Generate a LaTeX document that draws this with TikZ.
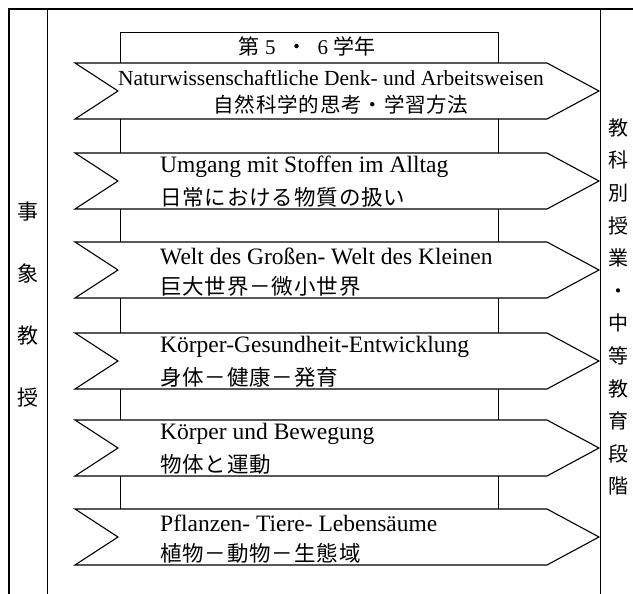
\documentclass[tikz,border=0pt]{standalone}
\usepackage{fontspec}
\setmainfont{Liberation Serif}
\newfontfamily\jp[LetterSpace=4]{Noto Sans CJK JP}
\newfontfamily\jpv{Noto Sans CJK JP}
\begin{document}
\begin{tikzpicture}[x=1pt,y=-1pt,
  thickline/.style={line width=1.8pt},
  thinline/.style={line width=0.9pt},
  arrowbox/.style={draw=black,fill=white,line width=1.1pt,line join=miter},
  de/.style={inner sep=0pt,font=\fontsize{23.5}{26}\selectfont},
  ja/.style={inner sep=0pt,font=\fontsize{21.5}{24}\selectfont\jp},
  vert/.style={inner sep=0pt,align=center}]
\useasboundingbox (0,0) rectangle (633,594);
% frame
\draw[thickline] (633,9) -- (9,9) -- (9,594);
\draw[thinline] (47,9) -- (47,594);
\draw[thinline] (600,9) -- (600,594);
% middle box
\draw[thinline] (120,509) -- (120,32) -- (498,32) -- (498,509);
% arrows
\foreach \t in {63,153,242,333,420,509} {
  \draw[arrowbox] (75,\t) -- (547,\t) -- (599,\t+28) -- (547,\t+56) -- (75,\t+56) -- (118,\t+28) -- cycle;
}
% title
\node[inner sep=0pt,font=\fontsize{21}{24}\selectfont] (title) at (307,46) {{\jpv 第}\ 5\ \ {\jpv ・}\ \ 6\ {\jpv 学年}};
% arrow 1
\node[inner sep=0pt,font=\fontsize{21.5}{24}\selectfont] (a1de) at (331,78) {Naturwissenschaftliche Denk- und Arbeitsweisen};
\node[ja,font=\fontsize{20.5}{24}\selectfont\jp] (a1ja) at (341,105) {自然科学的思考・学習方法};
% arrows 2-6
\node[de,anchor=west] (a2de) at (160,167) {Umgang mit Stoffen im Alltag};
\node[ja,anchor=west] (a2ja) at (160,197) {日常における物質の扱い};
\node[de,anchor=west] (a3de) at (160,256) {Welt des Großen- Welt des Kleinen};
\node[ja,anchor=west] (a3ja) at (160,286) {巨大世界－微小世界};
\node[de,anchor=west] (a4de) at (160,347) {Körper-Gesundheit-Entwicklung};
\node[ja,anchor=west] (a4ja) at (160,377) {身体－健康－発育};
\node[de,anchor=west] (a5de) at (160,434) {Körper und Bewegung};
\node[ja,anchor=west] (a5ja) at (160,464) {物体と運動};
\node[de,anchor=west] (a6de) at (160,523) {Pflanzen- Tiere- Lebensäume};
\node[ja,anchor=west] (a6ja) at (160,553) {植物－動物－生態域};
% side columns
\node[vert,font=\fontsize{21}{62}\selectfont\jpv] (left) at (28,305) {事\\象\\教\\授};
\node[vert,font=\fontsize{20}{32.6}\selectfont\jpv] (right) at (618,307) {教\\科\\別\\授\\業\\・\\中\\等\\教\\育\\段\\階};
\end{tikzpicture}
\end{document}
